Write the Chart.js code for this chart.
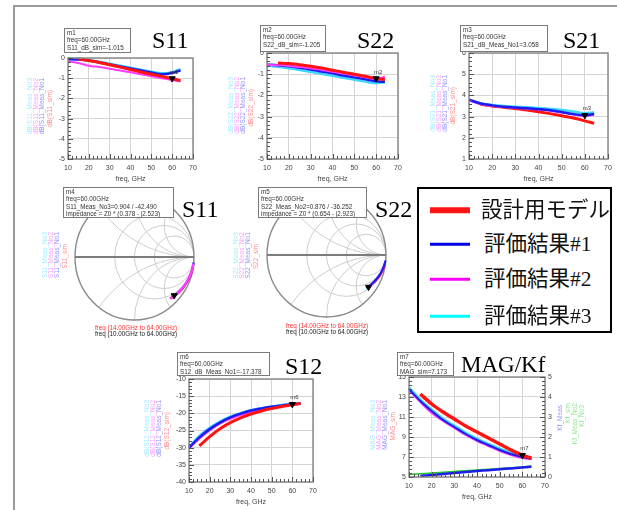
<!DOCTYPE html>
<html>
<head>
<meta charset="utf-8">
<script src="https://cdn.jsdelivr.net/npm/chart.js@4.4.1/dist/chart.umd.min.js"></script>
<style>
body{margin:0;width:617px;height:510px;background:#fff;position:relative;overflow:hidden;font-family:"Liberation Sans",Arial,sans-serif}
#frame{position:absolute;left:13px;top:5px;width:620px;height:520px;border-left:2px solid #9a9a9a;border-top:2px solid #9a9a9a}
.ttl{position:absolute;font-family:"Liberation Serif","Times New Roman",serif;font-size:24px;line-height:1;color:#000;white-space:nowrap}
.mk{position:absolute;background:#fff;border:1.5px solid #7a7a7a;font:6.3px/7.4px "Liberation Sans",Arial,sans-serif;color:#333;padding-left:2px;white-space:nowrap;overflow:hidden;box-sizing:border-box;z-index:3}
.vl{position:absolute;writing-mode:vertical-rl;transform:rotate(180deg);font:6.5px/6px "Liberation Sans",Arial,sans-serif;opacity:.5;filter:blur(.3px);white-space:nowrap}
.sf{position:absolute;font:6.3px/7px "Liberation Sans",Arial,sans-serif;white-space:nowrap;transform:translateX(-50%)}
#legend{position:absolute;left:417px;top:187px;width:195px;height:146px;border:2px solid #000;box-sizing:border-box;background:#fff;z-index:4}
.lg{position:absolute;left:11px;height:0}
.lg i{position:absolute;left:0;width:40px;transform:translateY(-50%)}
.lg span{position:absolute;left:52px;top:0;transform:translateY(-52%);font-family:"Noto Sans CJK JP",sans-serif;font-size:21.5px;line-height:1;white-space:nowrap;color:#111}
.lg b{font-weight:normal;font-family:"Liberation Serif",serif}
canvas{position:absolute}
</style>
</head>
<body>
<div id="frame"></div>
<script>
// frequency grids (GHz)
const freqMeas = [10,15,20,25,30,35,40,45,50,55,60,64];
const freqSim  = [15,20,25,30,35,40,45,50,55,60,64];

// S11 [dB]
const s11Sim = [-0.05,-0.12,-0.22,-0.33,-0.45,-0.57,-0.69,-0.80,-0.91,-1.015,-1.12];
const s11No1 = [-0.05,-0.08,-0.13,-0.22,-0.32,-0.42,-0.52,-0.62,-0.72,-0.80,-0.74,-0.62];
const s11No2 = [-0.15,-0.25,-0.38,-0.45,-0.53,-0.62,-0.71,-0.80,-0.90,-1.00,-1.10,-1.16];
const s11No3 = [-0.02,-0.05,-0.10,-0.18,-0.28,-0.38,-0.48,-0.58,-0.68,-0.76,-0.70,-0.55];
// S22 [dB]
const s22Sim = [-0.47,-0.50,-0.55,-0.62,-0.71,-0.81,-0.91,-1.00,-1.10,-1.205,-1.25];
const s22No1 = [-0.55,-0.58,-0.63,-0.70,-0.78,-0.87,-0.96,-1.06,-1.15,-1.24,-1.33,-1.36];
const s22No2 = [-0.56,-0.58,-0.61,-0.66,-0.72,-0.80,-0.88,-0.97,-1.06,-1.15,-1.22,-1.12];
const s22No3 = [-0.60,-0.65,-0.72,-0.80,-0.89,-0.98,-1.07,-1.17,-1.26,-1.35,-1.42,-1.38];
// S21 [dB]
const s21Sim = [3.58,3.50,3.44,3.38,3.31,3.23,3.14,3.04,2.93,2.80,2.68];
const s21No1 = [3.80,3.62,3.53,3.47,3.43,3.39,3.35,3.30,3.22,3.12,3.058,3.12];
const s21No2 = [3.76,3.58,3.50,3.45,3.41,3.37,3.33,3.27,3.19,3.10,3.02,3.10];
const s21No3 = [3.78,3.62,3.55,3.50,3.47,3.44,3.41,3.37,3.31,3.24,3.16,3.20];
// S12 [dB]
const s12Sim = [-29.5,-26.8,-24.5,-22.7,-21.3,-20.2,-19.3,-18.6,-18.0,-17.5,-17.1];
const s12No1 = [-30.0,-27.0,-24.6,-22.7,-21.2,-20.1,-19.2,-18.6,-18.1,-17.7,-17.378,-17.1];
const s12No2 = [-30.2,-27.4,-25.0,-23.0,-21.6,-20.5,-19.6,-18.9,-18.3,-17.9,-17.5,-17.2];
const s12No3 = [-29.8,-26.6,-24.2,-22.4,-21.0,-20.0,-19.1,-18.5,-18.0,-17.6,-17.3,-17.0];
// MAG [dB] and Kf
const magSim = [13.3,12.3,11.5,10.8,10.1,9.5,8.9,8.3,7.7,7.173,6.9];
const magNo1 = [13.8,12.6,11.6,10.7,10.0,9.3,8.7,8.2,7.7,7.3,7.0,6.8];
const magNo2 = [13.7,12.5,11.4,10.6,9.9,9.2,8.6,8.1,7.6,7.2,6.9,6.8];
const magNo3 = [13.9,12.7,11.7,10.8,10.1,9.4,8.8,8.3,7.8,7.4,7.1,6.9];
const kfGreen = [0.12,0.16,0.20,0.24,0.28,0.31,0.35,0.39,0.42,0.46,0.50,0.55];
const kfBlue  = [0.05,0.10,0.15,0.20,0.25,0.30,0.34,0.39,0.43,0.48,0.52];

// Smith chart traces: [magnitude, angle deg]
const sm11Sim = [[0.995,-9],[0.99,-13],[0.985,-17],[0.975,-21],[0.965,-25],[0.955,-29],[0.945,-33],[0.93,-37],[0.92,-40],[0.91,-43],[0.9,-46]];
const sm11No1 = [[0.998,-5],[0.995,-8],[0.99,-12],[0.985,-16],[0.975,-20],[0.965,-24],[0.955,-28],[0.945,-32],[0.935,-35],[0.92,-39],[0.91,-42],[0.9,-45]];
const sm11No2 = [[0.997,-6],[0.993,-9],[0.988,-13],[0.98,-17],[0.972,-21],[0.962,-25],[0.952,-29],[0.94,-33],[0.93,-37],[0.915,-41],[0.9,-44],[0.89,-48]];
const sm11No3 = [[1.0,-5],[0.997,-8],[0.99,-12],[0.982,-16],[0.972,-20],[0.962,-24],[0.952,-28],[0.94,-32],[0.928,-36],[0.915,-39],[0.904,-42.49],[0.895,-45]];
const sm22Sim = [[0.99,-8],[0.985,-11],[0.975,-14],[0.965,-17],[0.955,-20],[0.94,-23],[0.925,-26],[0.91,-29],[0.895,-32],[0.88,-35],[0.865,-38]];
const sm22No1 = [[0.995,-5],[0.99,-8],[0.98,-11],[0.97,-14],[0.96,-17],[0.948,-20],[0.935,-23],[0.92,-26],[0.905,-29],[0.89,-32],[0.878,-35],[0.868,-37]];
const sm22No2 = [[0.993,-6],[0.988,-9],[0.978,-12],[0.968,-15],[0.957,-18],[0.945,-21],[0.932,-24],[0.918,-27],[0.903,-30],[0.89,-33],[0.876,-36.25],[0.87,-38]];
const sm22No3 = [[0.99,-6],[0.983,-9],[0.972,-13],[0.96,-16],[0.948,-19],[0.935,-22],[0.92,-25],[0.905,-28],[0.89,-31],[0.875,-34],[0.862,-37],[0.855,-39]];
const smithR = [0.5,1,2];
const smithX = [0.5,1,2];

// tick labels
const xTicks   = [10,20,30,40,50,60,70];
const yTicksS11 = [0,-1,-2,-3,-4,-5];
const yTicksS22 = [0,-1,-2,-3,-4,-5];
const yTicksS21 = [6,5,4,3,2,1];
const yTicksS12 = [-10,-15,-20,-25,-30,-35,-40];
const yTicksMag = [15,14,13,12,11,10,9,8,7,6,5];
const yTicksKf  = [5,4,3,2,1,0];

const COL = {sim:'#ff1414', no1:'#1c1cf0', no2:'#ff3cff', no3:'#3cd8ff', kf:'#1ec81e'};
const GRID = '#d4d4d4';
Chart.defaults.font.family = '"Liberation Sans", Arial, sans-serif';
Chart.defaults.font.size = 7;

const pts = (xs, ys) => ys.map((y,i) => ({x:xs[i], y}));
const toXY = arr => arr.map(([m,a]) => ({x:m*Math.cos(a*Math.PI/180), y:m*Math.sin(a*Math.PI/180)}));
function trace(data, color, w, axis, smooth){
  return {data, borderColor:color, backgroundColor:color, borderWidth:w, pointRadius:0, showLine:true,
    yAxisID:axis||'y', clip:4, ...(smooth ? {tension:0.3} : {cubicInterpolationMode:'monotone'})};
}
function marker(name, pt, axis){
  return {data:[pt], markerName:name, pointStyle:'triangle', rotation:180, pointRadius:3.5, borderWidth:1,
    backgroundColor:'#000', borderColor:'#000', showLine:false, yAxisID:axis||'y', clip:false};
}

const markerLabels = {
  id:'markerLabels',
  afterDatasetsDraw(chart){
    const ctx = chart.ctx;
    chart.data.datasets.forEach((d,i) => {
      if (!d.markerName) return;
      const m = chart.getDatasetMeta(i).data[0];
      ctx.save();
      ctx.font = '6px "Liberation Sans"'; ctx.fillStyle = '#333'; ctx.textAlign = 'center';
      ctx.fillText(d.markerName, m.x + 2, m.y - 5);
      ctx.restore();
    });
  }
};

const adsAxes = {
  id:'adsAxes',
  afterDraw(chart){
    const {ctx, chartArea:a, scales} = chart;
    ctx.save();
    ctx.strokeStyle = '#8c8c8c'; ctx.lineWidth = 1.5;
    ctx.strokeRect(a.left, a.top, a.right - a.left, a.bottom - a.top);
    ctx.strokeStyle = '#555'; ctx.lineWidth = 1;
    const seg = (x1,y1,x2,y2) => { ctx.beginPath(); ctx.moveTo(x1,y1); ctx.lineTo(x2,y2); ctx.stroke(); };
    const xs = scales.x;
    for (let v = xs.min; v <= xs.max; v += 2) {
      const p = Math.round(xs.getPixelForValue(v)) + 0.5;
      seg(p, a.bottom, p, a.bottom - (v % 10 === 0 ? 5 : 3));
    }
    ['y','y2'].forEach(id => {
      const s = scales[id]; if (!s) return;
      const step = Math.abs(s.ticks[1].value - s.ticks[0].value) / 5;
      const x0 = id === 'y' ? a.left : a.right, dir = id === 'y' ? 1 : -1;
      for (let k = 0, v = s.min; v <= s.max + 1e-9; k++, v = s.min + k*step) {
        const p = Math.round(s.getPixelForValue(v)) + 0.5;
        seg(x0, p, x0 + dir*(k % 5 === 0 ? 5 : 3), p);
      }
    });
    ctx.restore();
  }
};

const smithGrid = {
  id:'smithGrid',
  beforeDatasetsDraw(chart){
    const {ctx, scales:{x, y}} = chart;
    const cx = x.getPixelForValue(0), cy = y.getPixelForValue(0);
    const rx = x.getPixelForValue(1) - cx, ry = cy - y.getPixelForValue(1);
    ctx.save();
    ctx.beginPath(); ctx.ellipse(cx, cy, rx, ry, 0, 0, Math.PI*2); ctx.clip();
    ctx.strokeStyle = '#cdcdcd'; ctx.lineWidth = 1;
    smithR.forEach(r => {
      const c = r/(1+r), rad = 1/(1+r);
      ctx.beginPath(); ctx.ellipse(cx + c*rx, cy, rad*rx, rad*ry, 0, 0, Math.PI*2); ctx.stroke();
    });
    smithX.forEach(xv => [1,-1].forEach(sg => {
      const rad = 1/xv;
      ctx.beginPath(); ctx.ellipse(cx + rx, cy - sg*rad*ry, rad*rx, rad*ry, 0, 0, Math.PI*2); ctx.stroke();
    }));
    ctx.restore();
    ctx.save();
    ctx.strokeStyle = '#8a8a8a'; ctx.lineWidth = 1.4;
    ctx.beginPath(); ctx.ellipse(cx, cy, rx, ry, 0, 0, Math.PI*2); ctx.stroke();
    ctx.strokeStyle = '#7c7c7c'; ctx.lineWidth = 2;
    ctx.beginPath(); ctx.moveTo(cx - rx, cy); ctx.lineTo(cx + rx, cy); ctx.stroke();
    ctx.restore();
  }
};

function addCanvas(l, t, w, h){
  const cv = document.createElement('canvas');
  cv.width = w; cv.height = h;
  cv.style.cssText = `left:${l}px;top:${t}px;width:${w}px;height:${h}px`;
  document.body.appendChild(cv);
  return cv;
}

function rectChart(p, datasets, yT, y2T){
  const AXL = 24, AXB = 24, PT = 6, PR = 10, AXR = y2T ? 16 : 0;
  const cv = addCanvas(p.l - AXL, p.t - PT, AXL + p.w + PR + AXR, PT + p.h + AXB);
  const zero = s => { s.paddingLeft = s.paddingRight = s.paddingTop = s.paddingBottom = 0; };
  const yScale = (ticks, pos, w) => ({
    type:'linear', position:pos, min:Math.min(...ticks), max:Math.max(...ticks),
    afterBuildTicks: s => { s.ticks = ticks.map(v => ({value:v})); },
    afterFit: s => { s.width = w; zero(s); },
    grid:{color: pos === 'left' ? GRID : 'transparent', drawTicks:false},
    border:{display:false},
    ticks:{padding:3, color:'#444', font:{size:7}}
  });
  const scales = {
    x:{type:'linear', min:10, max:70,
      afterBuildTicks: s => { s.ticks = xTicks.map(v => ({value:v})); },
      afterFit: s => { s.height = AXB; zero(s); },
      grid:{color:GRID, drawTicks:false}, border:{display:false},
      ticks:{padding:5, color:'#444', font:{size:7}, maxRotation:0},
      title:{display:true, text:'freq, GHz', color:'#444', font:{size:7}, padding:{top:2, bottom:0}}},
    y: yScale(yT, 'left', AXL)
  };
  if (y2T) scales.y2 = yScale(y2T, 'right', AXR);
  new Chart(cv, {type:'scatter', data:{datasets},
    options:{responsive:false, animation:false, events:[],
      layout:{padding:{top:PT, right:PR, left:0, bottom:0}},
      plugins:{legend:{display:false}, tooltip:{enabled:false}}, scales},
    plugins:[adsAxes, markerLabels]});
}

function smithChart(p, datasets){
  const PAD = 2;
  const cv = addCanvas(p.l - PAD, p.t - PAD, p.w + 2*PAD, p.h + 2*PAD);
  new Chart(cv, {type:'scatter', data:{datasets},
    options:{responsive:false, animation:false, events:[],
      layout:{padding:PAD},
      plugins:{legend:{display:false}, tooltip:{enabled:false}},
      scales:{x:{type:'linear', min:-1, max:1, display:false}, y:{type:'linear', min:-1, max:1, display:false}}},
    plugins:[smithGrid]});
}

// rotated trace-name labels beside the axes
function vlabels(items){
  items.forEach(([x, y, text, color]) => {
    const d = document.createElement('div');
    d.className = 'vl'; d.textContent = text; d.style.left = x + 'px'; d.style.top = y + 'px'; d.style.color = color;
    document.body.appendChild(d);
  });
}
function group(x, y, base, simName){
  vlabels([[x, y, base + '_Meas_No3', COL.no3], [x+6, y, base + '_Meas_No2', COL.no2],
           [x+12, y, base + '_Meas_No1', COL.no1], [x+20, y+12, simName, COL.sim]]);
}
group(27, 78, 'dB(S11', 'dB(S11_sim)');
group(228, 77, 'dB(S22', 'dB(S22_sim)');
group(430, 75, 'dB(S21', 'dB(S21_sim)');
group(42, 232, 'S11', 'S11_sim');
group(233, 232, 'S22', 'S22_sim');
group(144, 400, 'dB(S12', 'dB(S12_sim)');
group(370, 400, 'MAG', 'MAG_sim');
vlabels([[557, 405, 'Kf_Meas', COL.no1], [565, 403, 'Kf_sim', COL.kf], [572, 403, 'Kf_Meas_No2', COL.kf], [579, 405, 'Kf_No3', COL.kf]]);

// S11
rectChart({l:68, t:58, w:125, h:101}, [
  marker('m1', {x:60, y:s11Sim[9]}),
  trace(pts(freqSim, s11Sim), COL.sim, 3),
  trace(pts(freqMeas, s11No1), COL.no1, 2.5),
  trace(pts(freqMeas, s11No3), COL.no3, 2.5),
  trace(pts(freqMeas, s11No2), COL.no2, 2)
], yTicksS11);
// S22
rectChart({l:267, t:53, w:131, h:106}, [
  marker('m2', {x:60, y:s22Sim[9]}),
  trace(pts(freqSim, s22Sim), COL.sim, 3),
  trace(pts(freqMeas, s22No2), COL.no2, 2),
  trace(pts(freqMeas, s22No1), COL.no1, 2.5),
  trace(pts(freqMeas, s22No3), COL.no3, 2.5)
], yTicksS22);
// S21
rectChart({l:469, t:53, w:139, h:106}, [
  marker('m3', {x:60, y:s21No1[10]}),
  trace(pts(freqMeas, s21No1), COL.no1, 2.5),
  trace(pts(freqMeas, s21No2), COL.no2, 2),
  trace(pts(freqMeas, s21No3), COL.no3, 2.5),
  trace(pts(freqSim, s21Sim), COL.sim, 3)
], yTicksS21);
// S12
rectChart({l:189, t:379, w:124, h:103}, [
  marker('m6', {x:60, y:s12No1[10]}),
  trace(pts(freqSim, s12Sim), COL.sim, 3),
  trace(pts(freqMeas, s12No1), COL.no1, 2.5),
  trace(pts(freqMeas, s12No2), COL.no2, 2),
  trace(pts(freqMeas, s12No3), COL.no3, 2.5)
], yTicksS12);
// MAG / Kf
rectChart({l:409, t:377, w:136, h:100}, [
  marker('m7', {x:60, y:magSim[9]}),
  trace(pts(freqSim, magSim), COL.sim, 3.5),
  trace(pts(freqMeas, magNo1), COL.no1, 2),
  trace(pts(freqMeas, magNo2), COL.no2, 2),
  trace(pts(freqMeas, magNo3), COL.no3, 3),
  trace(pts(freqSim, kfBlue), COL.no1, 2.5, 'y2'),
  trace(pts(freqMeas, kfGreen), COL.kf, 1.5, 'y2')
], yTicksMag, yTicksKf);

// Smith charts
smithChart({l:72, t:191, w:125, h:132}, [
  marker(null, toXY(sm11No3)[10]),
  trace(toXY(sm11No2), COL.no2, 2.5, 'y', true),
  trace(toXY(sm11No1), COL.no1, 2, 'y', true),
  trace(toXY(sm11No3), COL.no3, 2, 'y', true),
  trace(toXY(sm11Sim), COL.sim, 2.5, 'y', true)
]);
smithChart({l:264, t:190, w:125, h:130}, [
  marker(null, toXY(sm22No2)[10]),
  trace(toXY(sm22No1), COL.no1, 2, 'y', true),
  trace(toXY(sm22No2), COL.no2, 2, 'y', true),
  trace(toXY(sm22Sim), COL.sim, 2.5, 'y', true),
  trace(toXY(sm22No3), COL.no3, 2, 'y', true)
]);

// marker readout boxes
function mbox(l, t, w, h, lines){
  const d = document.createElement('div');
  d.className = 'mk';
  d.style.cssText = `left:${l}px;top:${t}px;width:${w}px;height:${h}px`;
  d.innerHTML = lines.join('<br>');
  document.body.appendChild(d);
}
mbox(64, 28, 67, 25, ['m1', 'freq=60.00GHz', 'S11_dB_sim=-1.015']);
mbox(260, 25, 66, 27, ['m2', 'freq=60.00GHz', 'S22_dB_sim=-1.205']);
mbox(460, 25, 88, 27, ['m3', 'freq=60.00GHz', 'S21_dB_Meas_No1=3.058']);
mbox(63, 187, 111, 31, ['m4', 'freq=60.00GHz', 'S11_Meas_No3=0.904 / -42.490', 'impedance = Z0 * (0.378 - j2.523)']);
mbox(258, 187, 109, 31, ['m5', 'freq=60.00GHz', 'S22_Meas_No2=0.876 / -36.252', 'impedance = Z0 * (0.654 - j2.923)']);
mbox(177, 352, 93, 24, ['m6', 'freq=60.00GHz', 'S12_dB_Meas_No1=-17.378']);
mbox(397, 352, 57, 24, ['m7', 'freq=60.00GHz', 'MAG_sim=7.173']);

// Smith frequency range notes
function note(x, y, text, color){
  const d = document.createElement('div');
  d.className = 'sf'; d.textContent = text; d.style.left = x + 'px'; d.style.top = y + 'px'; d.style.color = color;
  document.body.appendChild(d);
}
note(136, 324, 'freq (14.00GHz to 64.00GHz)', '#ff3030');
note(136, 330, 'freq (10.00GHz to 64.00GHz)', '#222');
note(327, 322, 'freq (14.00GHz to 64.00GHz)', '#ff3030');
note(327, 327.5, 'freq (10.00GHz to 64.00GHz)', '#222');

// titles
[['S11', 152, 28], ['S22', 357, 28], ['S21', 563, 28], ['S11', 182, 197], ['S22', 375, 197], ['S12', 285, 354]]
  .forEach(([t, l, tp]) => {
    const d = document.createElement('div');
    d.className = 'ttl'; d.textContent = t; d.style.left = l + 'px'; d.style.top = tp + 'px';
    document.body.appendChild(d);
  });
const mt = document.createElement('div');
mt.className = 'ttl'; mt.textContent = 'MAG/Kf'; mt.style.cssText = 'left:461px;top:353px;font-size:23px';
document.body.appendChild(mt);

// legend
const legendItems = [['設計用モデル', '', COL.sim, 5.5], ['評価結果', '#1', '#0000e0', 2.5], ['評価結果', '#2', '#ff00ff', 2.5], ['評価結果', '#3', '#00ffff', 2.5]];
const legendY = [21, 55, 90, 127];
const lg = document.createElement('div');
lg.id = 'legend';
legendItems.forEach(([jp, num, color, w], i) => {
  const row = document.createElement('div');
  row.className = 'lg'; row.style.top = legendY[i] + 'px';
  row.innerHTML = `<i style="background:${color};height:${w}px"></i><span style="left:${i ? 54 : 51}px">${jp}<b>${num}</b></span>`;
  lg.appendChild(row);
});
document.body.appendChild(lg);
</script>
</body>
</html>
